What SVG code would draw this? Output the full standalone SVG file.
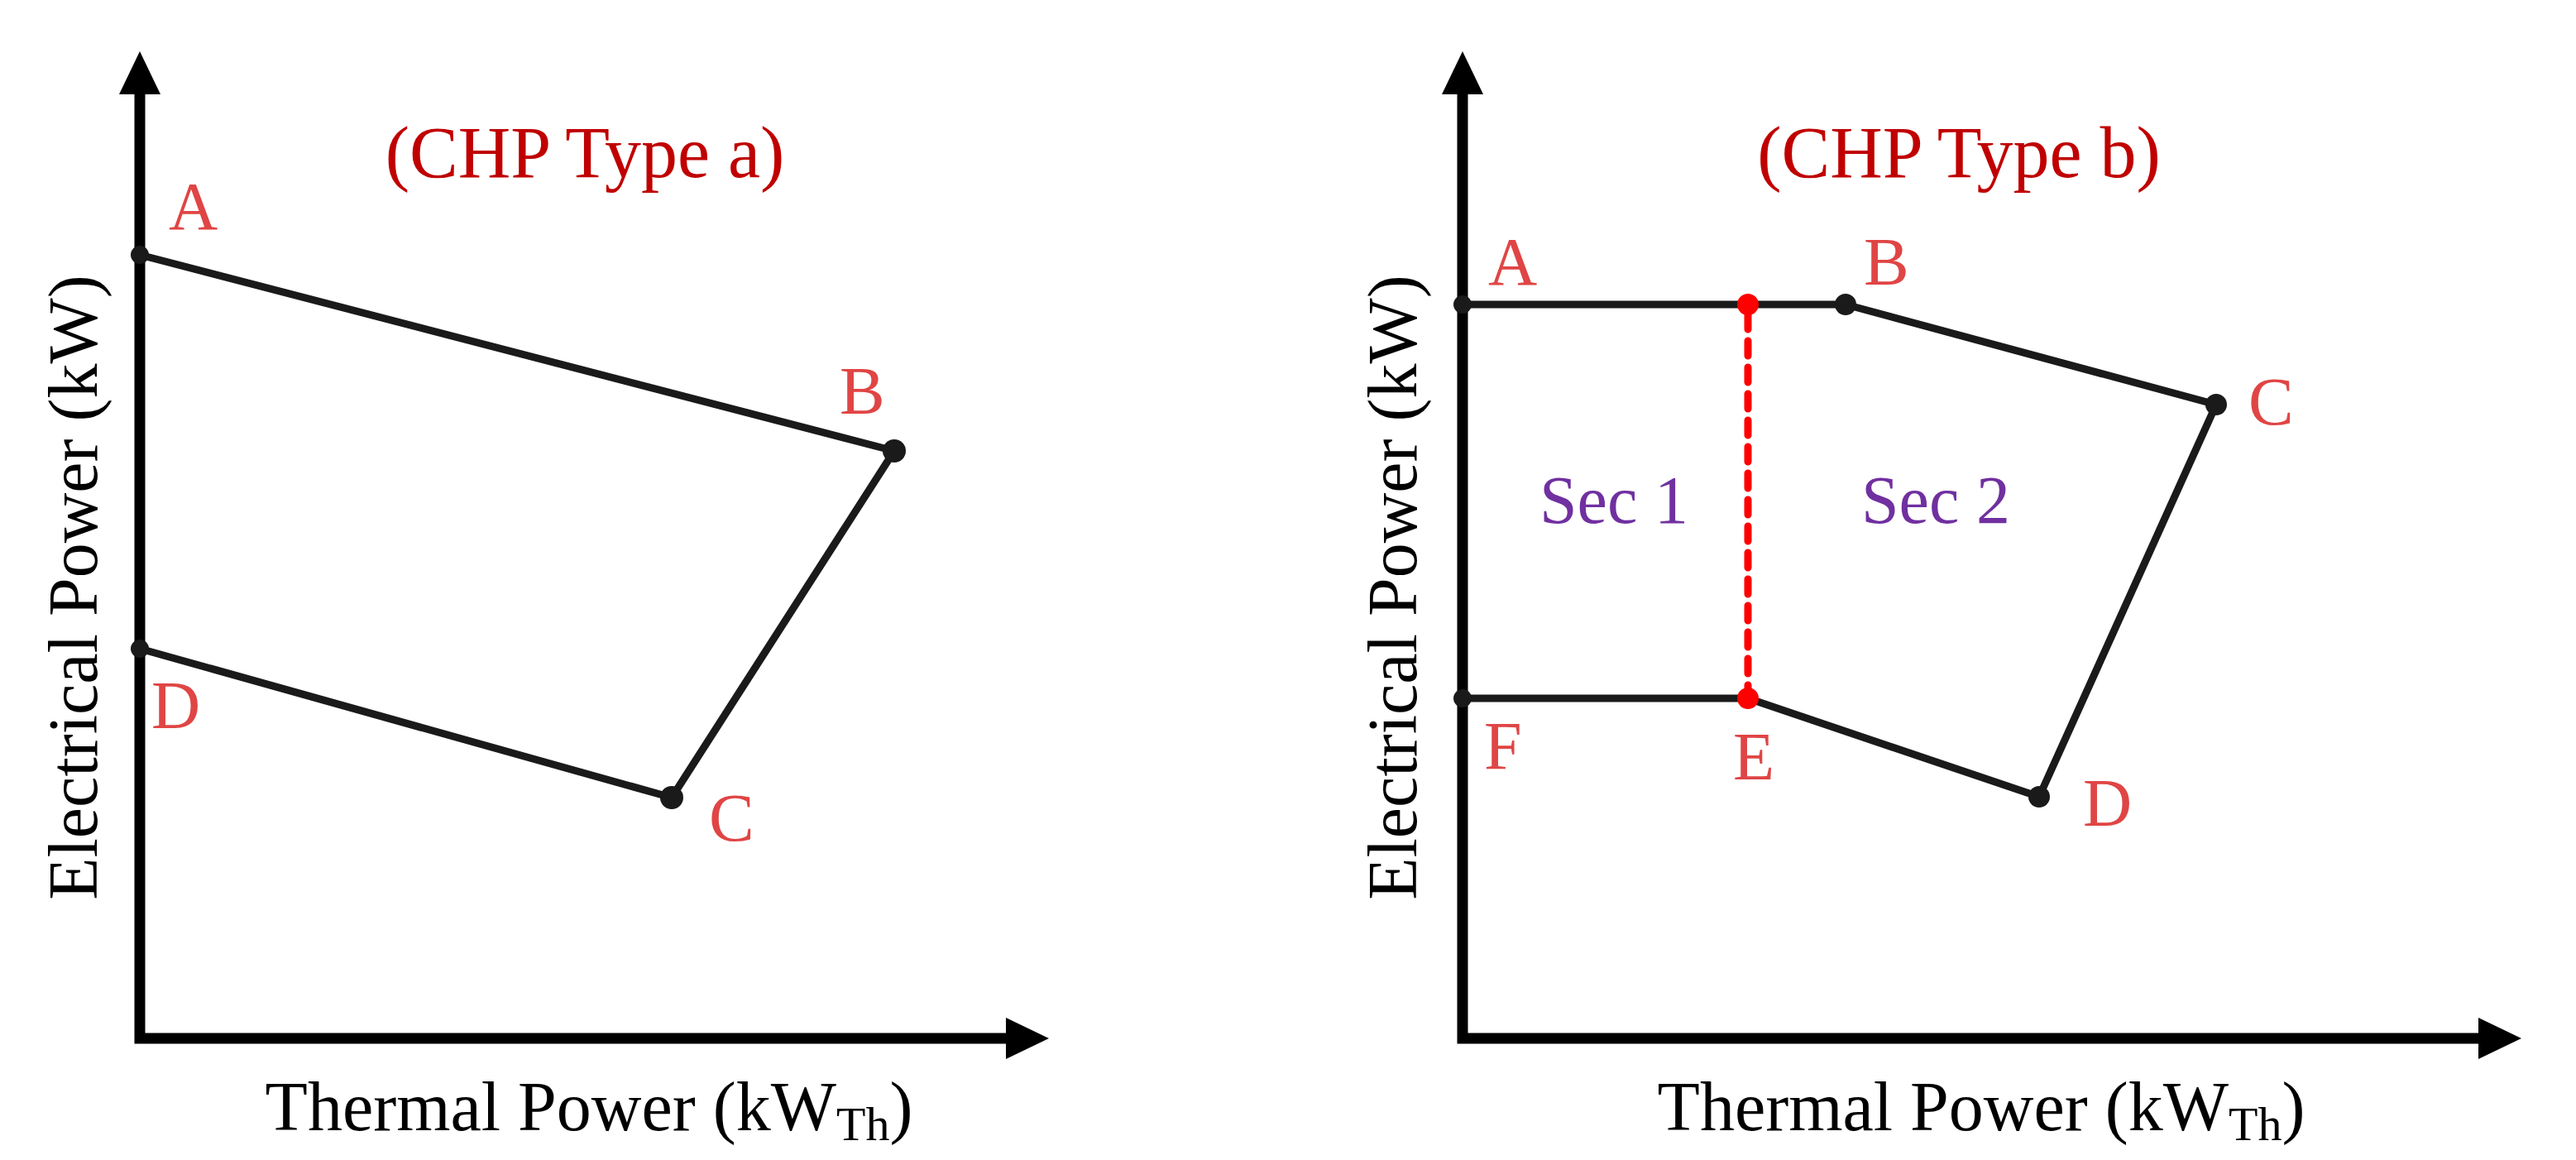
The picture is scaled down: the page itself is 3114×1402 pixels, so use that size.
<svg xmlns="http://www.w3.org/2000/svg" width="3114" height="1402" viewBox="0 0 3114 1402">
<style>
text{font-family:"Liberation Serif","Times New Roman",serif}
.ax{stroke:#000;stroke-width:13;fill:none;stroke-linecap:square}
.ln{stroke:#1a1a1a;stroke-width:9;fill:none;stroke-linejoin:round}
.pt{fill:#1a1a1a}
.rp{fill:#ff0000}
.lb{fill:#e04545;font-size:82px}
.tt{fill:#c00000;font-size:88px;text-anchor:middle}
.ax-t{fill:#000;font-size:84px;text-anchor:middle}
.sec{fill:#7030a0;font-size:82px}
</style>
<rect width="3114" height="1402" fill="#fff"/>
<g id="axes-a">
<path class="ax" d="M169 1255V110M169 1255H1220"/>
<polygon points="169,62 144,114 194,114"/>
<polygon points="1268,1255 1216,1230 1216,1280"/>
</g>
<g id="axes-b">
<path class="ax" d="M1768 1255V110M1768 1255H3000"/>
<polygon points="1768,62 1743,114 1793,114"/>
<polygon points="3048,1255 2996,1230 2996,1280"/>
</g>
<g id="connectors">
<polyline class="ln" points="169,308 1081,545 812,964 169,784"/>
<polyline class="ln" points="1768,368 2231,368 2679,489 2465,963 2113,844 1768,844"/>
<line x1="2113" y1="380" x2="2113" y2="834" stroke="#ff0000" stroke-width="9" stroke-dasharray="18 14" stroke-linecap="round"/>
</g>
<g id="node-a-A"><circle class="pt" cx="169" cy="308" r="11"/><text class="lb" x="204" y="277">A</text></g>
<g id="node-a-B"><circle class="pt" cx="1081" cy="545" r="14"/><text class="lb" x="1015" y="500">B</text></g>
<g id="node-a-C"><circle class="pt" cx="812" cy="964" r="14"/><text class="lb" x="857" y="1016">C</text></g>
<g id="node-a-D"><circle class="pt" cx="169" cy="784" r="11"/><text class="lb" x="183" y="880">D</text></g>
<g id="node-b-A"><circle class="pt" cx="1768" cy="368" r="11"/><text class="lb" x="1799" y="344">A</text></g>
<g id="node-b-mid"><circle class="rp" cx="2113" cy="368" r="13"/></g>
<g id="node-b-B"><circle class="pt" cx="2231" cy="368" r="13"/><text class="lb" x="2253" y="344">B</text></g>
<g id="node-b-C"><circle class="pt" cx="2679" cy="489" r="13"/><text class="lb" x="2718" y="513">C</text></g>
<g id="node-b-D"><circle class="pt" cx="2465" cy="963" r="13"/><text class="lb" x="2518" y="998">D</text></g>
<g id="node-b-E"><circle class="rp" cx="2113" cy="844" r="13"/><text class="lb" x="2095" y="942">E</text></g>
<g id="node-b-F"><circle class="pt" cx="1768" cy="844" r="11"/><text class="lb" x="1794" y="929">F</text></g>
<g id="labels">
<text class="tt" x="707" y="214">(CHP Type a)</text>
<text class="tt" x="2368" y="214">(CHP Type b)</text>
<text class="sec" x="1861" y="632">Sec 1</text>
<text class="sec" x="2250" y="632">Sec 2</text>
<text class="ax-t" transform="translate(117 710) rotate(-90)">Electrical Power (kW)</text>
<text class="ax-t" transform="translate(1712 710) rotate(-90)">Electrical Power (kW)</text>
<text class="ax-t" x="712" y="1366">Thermal Power (kW<tspan font-size="58" dy="12">Th</tspan><tspan dy="-12">)</tspan></text>
<text class="ax-t" x="2395" y="1366">Thermal Power (kW<tspan font-size="58" dy="12">Th</tspan><tspan dy="-12">)</tspan></text>
</g>
</svg>
